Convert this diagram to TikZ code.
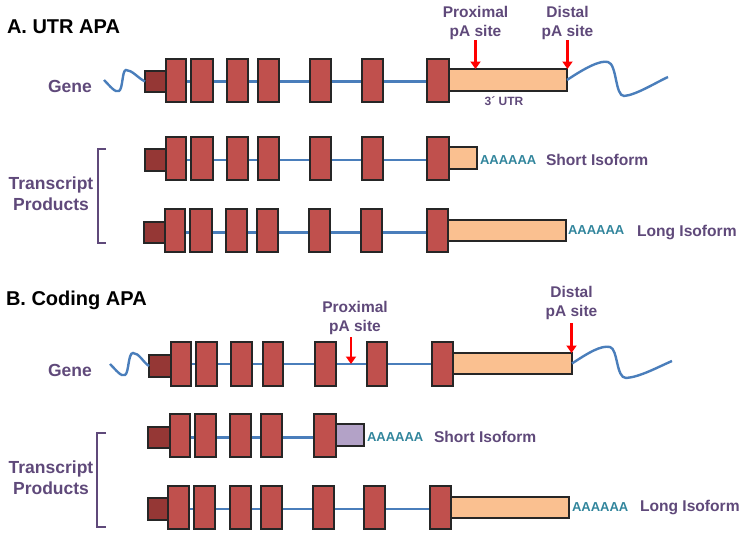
\documentclass[tikz,border=0pt]{standalone}
\usepackage{fontspec}
\setmainfont{Liberation Sans}
\usetikzlibrary{arrows.meta,backgrounds}
\definecolor{exonred}{HTML}{C0504D}
\definecolor{exondark}{HTML}{953735}
\definecolor{utrpeach}{HTML}{FAC090}
\definecolor{cdslilac}{HTML}{B3A2C7}
\definecolor{intronblue}{HTML}{4A7EBB}
\definecolor{labpurple}{HTML}{5F497A}
\definecolor{polyteal}{HTML}{31859C}
\definecolor{edgecol}{HTML}{262626}
\newcommand\mkbox[6]{\node[#1,minimum width={(#4)-(#3)},minimum height={(#6)-(#5)}] (#2) at ({((#3)+(#4))/2},{((#5)+(#6))/2}) {};}
\begin{document}
\begin{tikzpicture}[x=1pt,y=-1pt,
  anybox/.style={draw=edgecol,line width=1.2pt,inner sep=0pt,outer sep=0pt,rectangle},
  exonbox/.style={anybox,fill=exonred},
  capbox/.style={anybox,fill=exondark},
  utrbox/.style={anybox,fill=utrpeach},
  cdsbox/.style={anybox,fill=cdslilac},
  intron/.style={draw=intronblue,line width=2.6pt},
  wave/.style={draw=intronblue,line width=2.4pt},
  parrow/.style={draw=red,line width=2.7pt,-{Triangle[width=10pt,length=7.5pt]}},
  bracket/.style={draw=labpurple,line width=2.2pt},
  txt/.style={inner sep=0pt,outer sep=0pt,align=center},
  title/.style={txt,font=\bfseries\fontsize{20}{24}\selectfont,text=black},
  sidelab/.style={txt,font=\bfseries\fontsize{17.5}{21}\selectfont,text=labpurple},
  sitelab/.style={txt,font=\bfseries\fontsize{15.5}{19.5}\selectfont,text=labpurple},
  isolab/.style={txt,font=\bfseries\fontsize{15.6}{19}\selectfont,text=labpurple},
  polya/.style={txt,font=\bfseries\fontsize{13}{15}\selectfont,text=polyteal},
  utrlab/.style={txt,font=\bfseries\fontsize{12}{14}\selectfont,text=labpurple}]
\useasboundingbox (0,0) rectangle (745,536);

% ---------- A. UTR APA ----------
\node[title,anchor=base west] (titleA) at (7,33) {A. UTR APA};
\node[sidelab,anchor=base] (geneA) at (70,92) {Gene};
\node[sidelab,anchor=north] (trA) at (51,176.5) {Transcript\\Products};

% gene row
\mkbox{capbox}{sA}{145}{166}{71}{92}
\mkbox{exonbox}{gA1}{166}{186}{59}{102}
\mkbox{exonbox}{gA2}{191}{213}{59}{102}
\mkbox{exonbox}{gA3}{227}{248}{59}{102}
\mkbox{exonbox}{gA4}{258}{279}{59}{102}
\mkbox{exonbox}{gA5}{310}{331}{59}{102}
\mkbox{exonbox}{gA6}{362}{383}{59}{102}
\mkbox{exonbox}{gA7}{427}{449}{59}{102}
\mkbox{utrbox}{uA}{449}{567}{69}{91}
\node[utrlab,anchor=base] (utrA) at (504,105) {3´ UTR};
\node[sitelab,anchor=south] (pA) at (475.5,40) {Proximal\\pA site};
\node[sitelab,anchor=south] (dA) at (567.5,40) {Distal\\pA site};
\draw[parrow] (pA.south) -- (pA.south |- uA.north);
\draw[parrow] (dA.south) -- (dA.south |- uA.north);
\coordinate (wA0) at (104,80);
\coordinate (wA1) at (668,77);
\draw[wave] (wA0) .. controls (110,86) and (115,93) .. (119,91)
  .. controls (123,89) and (122,70) .. (126,70)
  .. controls (132,70) and (138,78) .. (sA.west);
\draw[wave] (uA.east) .. controls (585,68) and (600,60) .. (608,62)
  .. controls (617,64) and (615,96) .. (624,96)
  .. controls (636,95) and (655,83) .. (wA1);

% short isoform
\mkbox{capbox}{sA1}{145}{166}{149}{171}
\mkbox{exonbox}{tA11}{166}{186}{137}{180}
\mkbox{exonbox}{tA12}{191}{213}{137}{180}
\mkbox{exonbox}{tA13}{227}{248}{137}{180}
\mkbox{exonbox}{tA14}{258}{279}{137}{180}
\mkbox{exonbox}{tA15}{310}{331}{137}{180}
\mkbox{exonbox}{tA16}{362}{383}{137}{180}
\mkbox{exonbox}{tA17}{427}{449}{137}{180}
\mkbox{utrbox}{uA1}{449}{477}{147}{169}
\node[polya,anchor=base west] (aA1) at (480,164) {AAAAAA};
\node[isolab,anchor=base west] (iA1) at (546,165) {Short Isoform};

% long isoform
\mkbox{capbox}{sA2}{144}{165}{222}{243}
\mkbox{exonbox}{tA21}{165}{185}{209}{252}
\mkbox{exonbox}{tA22}{190}{212}{209}{252}
\mkbox{exonbox}{tA23}{226}{247}{209}{252}
\mkbox{exonbox}{tA24}{257}{278}{209}{252}
\mkbox{exonbox}{tA25}{309}{330}{209}{252}
\mkbox{exonbox}{tA26}{361}{382}{209}{252}
\mkbox{exonbox}{tA27}{427}{448}{209}{252}
\mkbox{utrbox}{uA2}{448}{566}{220}{241}
\node[polya,anchor=base west] (aA2) at (568,234) {AAAAAA};
\node[isolab,anchor=base west] (iA2) at (637,236) {Long Isoform};

\draw[bracket] (106,149) -- (98,149) -- (98,243) -- (106,243);

% ---------- B. Coding APA ----------
\node[title,anchor=base west] (titleB) at (6,305) {B. Coding APA};
\node[sidelab,anchor=base] (geneB) at (70,376) {Gene};
\node[sidelab,anchor=north] (trB) at (51,461.3) {Transcript\\Products};

\mkbox{capbox}{sB}{149}{171}{355}{377}
\mkbox{exonbox}{gB1}{171}{191}{342}{386}
\mkbox{exonbox}{gB2}{196}{217}{342}{386}
\mkbox{exonbox}{gB3}{231}{252}{342}{386}
\mkbox{exonbox}{gB4}{263}{283}{342}{386}
\mkbox{exonbox}{gB5}{315}{336}{342}{386}
\mkbox{exonbox}{gB6}{367}{387}{342}{386}
\mkbox{exonbox}{gB7}{432}{453}{342}{386}
\mkbox{utrbox}{uB}{453}{572}{353}{374}
\node[sitelab,anchor=south] (pB) at (355,335) {Proximal\\pA site};
\node[sitelab,anchor=south] (dB) at (571.5,320) {Distal\\pA site};
\draw[parrow] ([xshift=-4pt,yshift=-2pt]pB.south) -- ([xshift=-4pt]pB.south |- gB1.center);
\draw[parrow] ([yshift=-3pt]dB.south) -- (dB.south |- uB.north);
\coordinate (wB0) at (110,364);
\coordinate (wB1) at (672,361);
\draw[wave] (wB0) .. controls (116,370) and (121,377) .. (125,375)
  .. controls (129,373) and (128,353) .. (133,353)
  .. controls (139,353) and (143,362) .. (sB.west);
\draw[wave] (uB.east) .. controls (588,353) and (601,345) .. (610,347)
  .. controls (618,349) and (616,378) .. (626,378)
  .. controls (640,377) and (658,367) .. (wB1);

% short isoform
\mkbox{capbox}{sB1}{148}{170}{427}{448}
\mkbox{exonbox}{tB11}{170}{190}{414}{457}
\mkbox{exonbox}{tB12}{195}{216}{414}{457}
\mkbox{exonbox}{tB13}{230}{251}{414}{457}
\mkbox{exonbox}{tB14}{261}{282}{414}{457}
\mkbox{exonbox}{tB15}{314}{336}{414}{457}
\mkbox{cdsbox}{uB1}{336}{364}{424}{446}
\node[polya,anchor=base west] (aB1) at (367,441) {AAAAAA};
\node[isolab,anchor=base west] (iB1) at (434,442) {Short Isoform};

% long isoform
\mkbox{capbox}{sB2}{148}{168}{498}{520}
\mkbox{exonbox}{tB21}{168}{189}{486}{529}
\mkbox{exonbox}{tB22}{194}{215}{486}{529}
\mkbox{exonbox}{tB23}{230}{251}{486}{529}
\mkbox{exonbox}{tB24}{261}{282}{486}{529}
\mkbox{exonbox}{tB25}{313}{334}{486}{529}
\mkbox{exonbox}{tB26}{364}{385}{486}{529}
\mkbox{exonbox}{tB27}{430}{451}{486}{529}
\mkbox{utrbox}{uB2}{451}{569}{497}{518}
\node[polya,anchor=base west] (aB2) at (572,511) {AAAAAA};
\node[isolab,anchor=base west] (iB2) at (640,511) {Long Isoform};

\draw[bracket] (106,433) -- (97,433) -- (97,527) -- (106,527);

% introns behind the exons
\begin{scope}[on background layer]
\draw[intron] (sA.east) -- (sA.east -| gA7.west);
\draw[intron] (sA1.east) -- (sA1.east -| tA17.west);
\draw[intron] (sA2.east) -- (sA2.east -| tA27.west);
\draw[intron] (sB.east |- gB1.center) -- (gB7.west);
\draw[intron] (sB1.east) -- (sB1.east -| tB15.west);
\draw[intron] (sB2.east) -- (sB2.east -| tB27.west);
\end{scope}
\end{tikzpicture}
\end{document}
